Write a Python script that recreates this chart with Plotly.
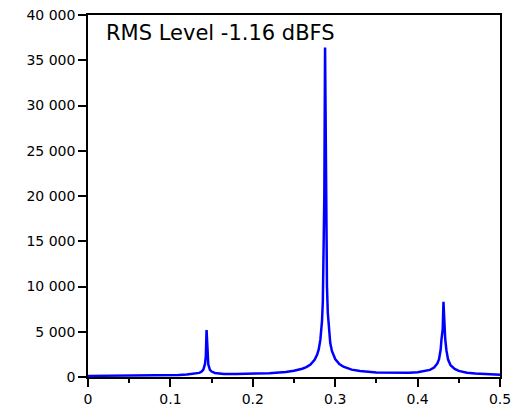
import plotly.graph_objects as go

# Normalized frequency (x) and magnitude (y)
freq = [0.000, 0.020, 0.040, 0.060, 0.080, 0.100, 0.110, 0.120, 0.130, 0.135,
        0.138, 0.140, 0.142, 0.143, 0.1439, 0.1448, 0.146, 0.148, 0.150, 0.154,
        0.158, 0.165, 0.180, 0.200, 0.220, 0.240, 0.250, 0.260, 0.265, 0.270,
        0.275, 0.278, 0.280, 0.282, 0.284, 0.285, 0.286, 0.2868, 0.2877, 0.2886,
        0.2895, 0.290, 0.291, 0.292, 0.294, 0.296, 0.298, 0.300, 0.305, 0.310,
        0.320, 0.330, 0.350, 0.370, 0.390, 0.400, 0.410, 0.415, 0.420, 0.424,
        0.426, 0.428, 0.429, 0.4305, 0.4314, 0.4323, 0.4335, 0.435, 0.437, 0.440,
        0.445, 0.450, 0.460, 0.470, 0.480, 0.490, 0.500]
magnitude = [120, 129, 141, 156, 177, 207, 231, 270, 352, 454,
             595, 814, 1441, 2300, 5200, 2300, 1370, 787, 602, 448,
             386, 339, 320, 348, 419, 559, 688, 908, 1095, 1381,
             1890, 2455, 3049, 4123, 6210, 8340, 13650, 20000, 36400, 20000,
             13270, 10080, 7120, 5515, 3745, 2885, 2330, 1980, 1440, 1135,
             815, 655, 501, 449, 470, 524, 650, 783, 1037, 1495,
             1960, 3040, 4180, 5300, 8300, 5300, 4200, 2940, 1920, 1300,
             885, 673, 482, 385, 327, 287, 258]

y_tick_vals = [0, 5000, 10000, 15000, 20000, 25000, 30000, 35000, 40000]
y_tick_text = ["0", "5 000", "10 000", "15 000", "20 000", "25 000",
               "30 000", "35 000", "40 000"]
x_tick_vals = [0, 0.1, 0.2, 0.3, 0.4, 0.5]
x_tick_text = ["0", "0.1", "0.2", "0.3", "0.4", "0.5"]
title_text = "RMS Level -1.16 dBFS"

fig = go.Figure()
fig.add_trace(go.Scatter(
    x=freq, y=magnitude, mode="lines",
    line=dict(color="#0000ff", width=2.5),
    hoverinfo="skip", showlegend=False,
))

axis_common = dict(
    showline=True, linecolor="black", linewidth=1.5, mirror=True,
    ticks="outside", ticklen=8, tickwidth=1.5, tickcolor="black",
    showgrid=False, zeroline=False, automargin=False,
    tickfont=dict(family="DejaVu Sans", size=14, color="black"),
)

fig.update_xaxes(range=[0, 0.5], tickvals=x_tick_vals, ticktext=x_tick_text,
                 minor=dict(ticks="outside", ticklen=4, tickwidth=1.5,
                            tickcolor="black", dtick=0.05, tick0=0),
                 **axis_common)
fig.update_yaxes(range=[0, 40000], tickvals=y_tick_vals, ticktext=y_tick_text,
                 **axis_common)

fig.add_annotation(
    text=title_text, xref="paper", yref="paper", x=0.04, y=0.99,
    xanchor="left", yanchor="top", showarrow=False,
    font=dict(family="DejaVu Sans", size=21, color="black"),
)

fig.update_layout(
    width=516, height=410,
    margin=dict(l=88, r=16, t=15, b=33),
    paper_bgcolor="white", plot_bgcolor="white",
)

fig.write_html("out.html",
               config={"displayModeBar": False},
               post_script="document.body.style.margin='0';"
                           "document.body.style.overflow='hidden';")
